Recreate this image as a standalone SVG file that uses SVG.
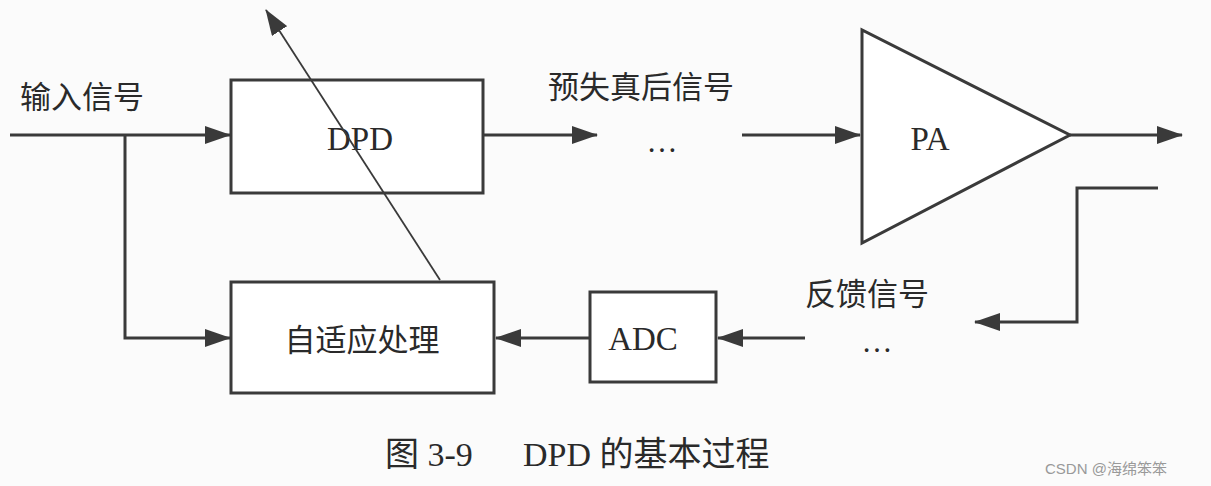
<svg xmlns="http://www.w3.org/2000/svg" width="1211" height="486" viewBox="0 0 1211 486">
<style>
.l{stroke:#3a3a3a;stroke-width:3;fill:none}
.b{stroke:#3a3a3a;stroke-width:3;fill:#fff}
.t{font-family:"Liberation Serif","Noto Sans CJK SC",serif;fill:#2a2a2a;font-size:31px}
.e{font-size:33px}
.c{text-anchor:middle}
</style>
<defs>
<marker id="A" markerWidth="26" markerHeight="18" refX="25" refY="9" orient="auto" markerUnits="userSpaceOnUse"><path d="M0,0L26,9L0,18z" fill="#3a3a3a"/></marker>
</defs>
<rect width="1211" height="486" fill="#fbfbfb"/>
<g id="dpd"><rect class="b" x="231" y="80" width="252" height="113"/><text class="t e c" x="360" y="150">DPD</text></g>
<g id="pa"><polygon class="b" points="862,30 862,243 1070,135"/><text class="t e c" x="930" y="150">PA</text></g>
<g id="adc"><rect class="b" x="590" y="292" width="126" height="90"/><text class="t e c" x="643" y="350">ADC</text></g>
<g id="adapt"><rect class="b" x="231" y="282" width="263" height="111"/><text class="t c" x="362" y="351">自适应处理</text></g>
<g id="connectors">
<path class="l" d="M10,135H230" marker-end="url(#A)"/>
<path class="l" d="M125,135V338H230" marker-end="url(#A)"/>
<path class="l" d="M483,135H597" marker-end="url(#A)"/>
<path class="l" d="M742,135H860" marker-end="url(#A)"/>
<path class="l" d="M1070,135H1182" marker-end="url(#A)"/>
<path class="l" d="M1158,188H1077V322H975" marker-end="url(#A)"/>
<path class="l" d="M805,338H718" marker-end="url(#A)"/>
<path class="l" d="M590,338H496" marker-end="url(#A)"/>
<path stroke="#3a3a3a" stroke-width="1.8" fill="none" d="M440,280L266,10" marker-end="url(#A)"/>
</g>
<g id="labels">
<text class="t" x="20" y="108">输入信号</text>
<text class="t" x="548" y="98">预失真后信号</text>
<text class="t c" x="662" y="152">…</text>
<text class="t" x="805" y="305">反馈信号</text>
<text class="t c" x="877" y="352">…</text>
<text class="t" x="385" y="466" style="font-size:34px">图 3-9</text>
<text class="t" x="523" y="466" style="font-size:34px">DPD 的基本过程</text>
<text x="1045" y="474" style="font-family:'Liberation Sans','Noto Sans CJK SC',sans-serif;font-size:15px;fill:#999">CSDN @海绵笨笨</text>
</g>
</svg>
